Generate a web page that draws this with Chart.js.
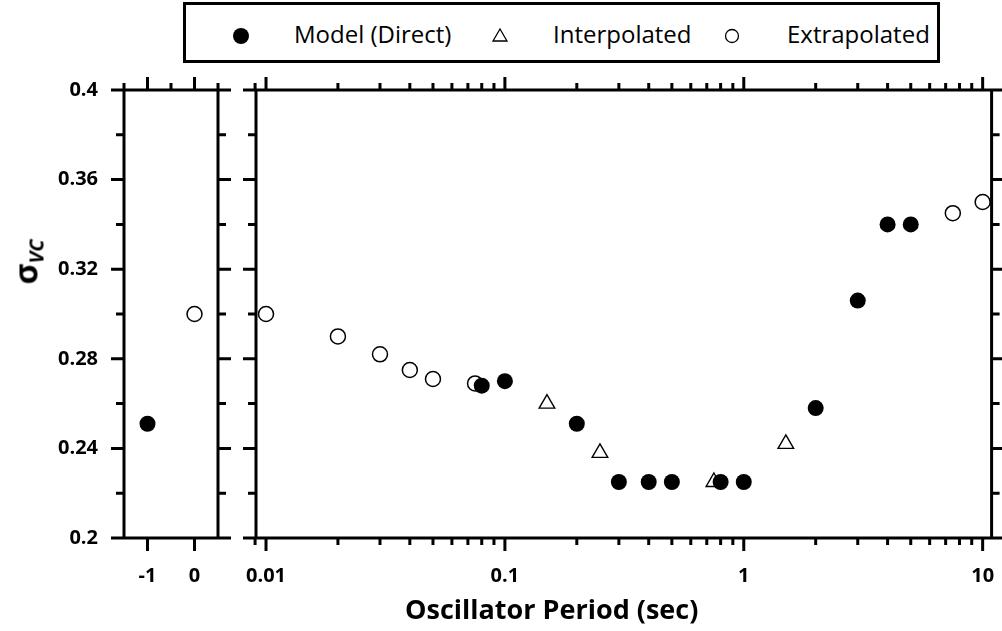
<!DOCTYPE html>
<html>
<head>
<meta charset="utf-8">
<script src="https://cdn.jsdelivr.net/npm/chart.js@4/dist/chart.umd.min.js"></script>
<style>
  body { margin: 0; background: #fff; }
  #page { position: relative; width: 1002px; height: 631px; overflow: hidden; font-family: "Open Sans", sans-serif; color: #000; }
  #leftChart { position: absolute; left: 0; top: 0; }
  #rightChart { position: absolute; left: 236px; top: 0; }
  #legend { position: absolute; left: 183px; top: 2px; width: 757px; height: 61px; box-sizing: border-box; border: 3px solid #000; background: #fff; }
  #legend .sym { position: absolute; top: 0; }
  #legend .txt { position: absolute; top: 14px; font-size: 24px; line-height: 30px; white-space: nowrap; }
  #xTitle { position: absolute; left: 405px; top: 591px; font-size: 27px; font-weight: bold; line-height: 36px; white-space: nowrap; }
  #yTitle { position: absolute; left: 28px; top: 262px; transform: translate(-50%, -50%) rotate(-90deg); font-weight: bold; white-space: nowrap; line-height: 1; }
  #yTitle .sig { font-size: 32px; }
  #yTitle sub { font-size: 20px; font-style: italic; vertical-align: -6px; }
</style>
</head>
<body>
<div id="page">
  <canvas id="leftChart" width="240" height="631"></canvas>
  <canvas id="rightChart" width="766" height="631"></canvas>
  <div id="legend">
    <svg class="sym" style="left:46px" width="20" height="58"><circle cx="9" cy="31" r="8" fill="#000"/></svg>
    <div class="txt" style="left:108px">Model (Direct)</div>
    <svg class="sym" style="left:304px" width="20" height="58"><polygon points="10,24 17,36 3,36" fill="#fff" stroke="#000" stroke-width="1.3"/></svg>
    <div class="txt" style="left:367px">Interpolated</div>
    <svg class="sym" style="left:536px" width="20" height="58"><circle cx="10" cy="31" r="6.5" fill="#fff" stroke="#000" stroke-width="1.3"/></svg>
    <div class="txt" style="left:601px">Extrapolated</div>
  </div>
  <div id="xTitle">Oscillator Period (sec)</div>
  <div id="yTitle"><span class="sig">σ</span><sub>VC</sub></div>
</div>
<script>
// y axis (shared by both panels)
const yTicks = [0.2, 0.24, 0.28, 0.32, 0.36, 0.4];
const yTickLabels = ['0.2', '0.24', '0.28', '0.32', '0.36', '0.4'];
const yMinorTicks = [0.22, 0.26, 0.3, 0.34, 0.38];

// left panel: categorical-ish linear axis
const leftXTicks = [-1, 0];
const leftXLabels = ['-1', '0'];
const leftXMinor = [-1.5, -0.5, 0.5];

// right panel: log axis of oscillator period
const rightXTicks = [0.01, 0.1, 1, 10];
const rightXLabels = ['0.01', '0.1', '1', '10'];
const logMinorSteps = [2, 3, 4, 5, 6, 7, 8, 9];

// left panel data
const leftModelX = [-1];
const leftModelY = [0.251];
const leftExtrapX = [0];
const leftExtrapY = [0.30];

// right panel data
const modelPeriods = [0.08, 0.1, 0.2, 0.3, 0.4, 0.5, 0.8, 1, 2, 3, 4, 5];
const modelSigma = [0.268, 0.27, 0.251, 0.225, 0.225, 0.225, 0.225, 0.225, 0.258, 0.306, 0.34, 0.34];
const interpPeriods = [0.15, 0.25, 0.75, 1.5];
const interpSigma = [0.26, 0.238, 0.225, 0.242];
const extrapPeriods = [0.01, 0.02, 0.03, 0.04, 0.05, 0.075, 7.5, 10];
const extrapSigma = [0.30, 0.29, 0.282, 0.275, 0.271, 0.269, 0.345, 0.35];

const tickFont = { family: '"Open Sans", sans-serif', size: 20, weight: 'bold' };
const MAJOR = 13, MINOR = 7;

function points(xs, ys) {
  return xs.map((x, i) => ({ x: x, y: ys[i] }));
}

function modelSet(xs, ys) {
  return { label: 'Model (Direct)', data: points(xs, ys), pointStyle: 'circle', pointRadius: 8,
    backgroundColor: '#000', borderColor: '#000', borderWidth: 0, clip: false };
}
function interpSet(xs, ys) {
  return { label: 'Interpolated', data: points(xs, ys), pointStyle: 'triangle', pointRadius: 9,
    backgroundColor: '#fff', borderColor: '#000', borderWidth: 1.4, clip: false };
}
function extrapSet(xs, ys) {
  return { label: 'Extrapolated', data: points(xs, ys), pointStyle: 'circle', pointRadius: 7.5,
    backgroundColor: '#fff', borderColor: '#000', borderWidth: 1.5, clip: false };
}

// Draws the box frame plus tick marks from the chart's own scales
const framePlugin = {
  id: 'frame',
  afterDraw(chart, args, opts) {
    const ctx = chart.ctx;
    const a = chart.chartArea;
    const xs = chart.scales.x, ys = chart.scales.y;
    ctx.save();
    ctx.strokeStyle = '#000';
    ctx.lineWidth = 3;
    ctx.beginPath();
    // horizontal lines run past the frame by a major tick length
    ctx.moveTo(a.left - MAJOR, a.top); ctx.lineTo(a.right + MAJOR, a.top);
    ctx.moveTo(a.left - MAJOR, a.bottom); ctx.lineTo(a.right + MAJOR, a.bottom);
    ctx.moveTo(a.left, a.top); ctx.lineTo(a.left, a.bottom);
    ctx.moveTo(a.right, a.top); ctx.lineTo(a.right, a.bottom);

    yTicks.forEach(v => {
      const py = ys.getPixelForValue(v);
      ctx.moveTo(a.left - MAJOR, py); ctx.lineTo(a.left, py);
      ctx.moveTo(a.right, py); ctx.lineTo(a.right + MAJOR, py);
    });
    yMinorTicks.forEach(v => {
      const py = ys.getPixelForValue(v);
      ctx.moveTo(a.left - MINOR - 1, py); ctx.lineTo(a.left, py);
      ctx.moveTo(a.right, py); ctx.lineTo(a.right + MINOR + 1, py);
    });
    opts.xMajor.forEach(v => {
      const px = xs.getPixelForValue(v);
      ctx.moveTo(px, a.top - MAJOR); ctx.lineTo(px, a.top);
      ctx.moveTo(px, a.bottom); ctx.lineTo(px, a.bottom + MAJOR);
    });
    opts.xMinor.forEach(v => {
      const px = xs.getPixelForValue(v);
      if (px < a.left - 1 || px > a.right + 1) return;
      ctx.moveTo(px, a.top - MINOR); ctx.lineTo(px, a.top);
      if (opts.bottomMinor) { ctx.moveTo(px, a.bottom); ctx.lineTo(px, a.bottom + MINOR); }
    });
    ctx.stroke();
    ctx.restore();
  }
};

function xScale(type, min, max, ticks, labels) {
  return {
    type: type, min: min, max: max,
    afterBuildTicks: s => { s.ticks = ticks.map(v => ({ value: v })); },
    ticks: { callback: (v, i) => labels[i], font: tickFont, color: '#000', padding: 26,
      maxRotation: 0, autoSkip: false },
    grid: { display: false, drawTicks: false },
    border: { display: false },
    // fixed height, and no extra room for labels that hang over the edges
    afterFit: s => { s.height = 93; s.paddingLeft = 0; s.paddingRight = 0; }
  };
}

const commonPlugins = { legend: { display: false }, tooltip: { enabled: false } };

// left panel
new Chart(document.getElementById('leftChart'), {
  type: 'scatter',
  data: {
    datasets: [modelSet(leftModelX, leftModelY), extrapSet(leftExtrapX, leftExtrapY)]
  },
  options: {
    responsive: false, animation: false, devicePixelRatio: 1,
    layout: { padding: { left: 0, right: 22, top: 90, bottom: 0 } },
    scales: {
      x: xScale('linear', -1.5, 0.5, leftXTicks, leftXLabels),
      y: {
        min: 0.2, max: 0.4,
        afterBuildTicks: s => { s.ticks = yTicks.map(v => ({ value: v })); },
        ticks: { callback: (v, i) => yTickLabels[i], font: tickFont, color: '#000', padding: 26 },
        grid: { display: false, drawTicks: false },
        border: { display: false },
        afterFit: s => { s.width = 124; s.paddingTop = 0; s.paddingBottom = 0; }
      }
    },
    plugins: Object.assign({ frame: { xMajor: leftXTicks, xMinor: leftXMinor, bottomMinor: false } }, commonPlugins)
  },
  plugins: [framePlugin]
});

// minor ticks of the log axis: 2..9 within each decade, plus 9e-3 at the left edge
const rightXMinor = [0.009];
[0.01, 0.1, 1].forEach(d => logMinorSteps.forEach(m => rightXMinor.push(d * m)));

// right panel
new Chart(document.getElementById('rightChart'), {
  type: 'scatter',
  data: {
    datasets: [
      modelSet(modelPeriods, modelSigma),
      interpSet(interpPeriods, interpSigma),
      extrapSet(extrapPeriods, extrapSigma)
    ]
  },
  options: {
    responsive: false, animation: false, devicePixelRatio: 1,
    layout: { padding: { left: 0, right: 9, top: 90, bottom: 0 } },
    scales: {
      x: xScale('logarithmic', 0.00908, 10.9, rightXTicks, rightXLabels),
      y: {
        min: 0.2, max: 0.4,
        ticks: { display: false },
        grid: { display: false, drawTicks: false },
        border: { display: false },
        afterFit: s => { s.width = 20; s.paddingTop = 0; s.paddingBottom = 0; }
      }
    },
    plugins: Object.assign({ frame: { xMajor: rightXTicks, xMinor: rightXMinor, bottomMinor: true } }, commonPlugins)
  },
  plugins: [framePlugin]
});
</script>
</body>
</html>
